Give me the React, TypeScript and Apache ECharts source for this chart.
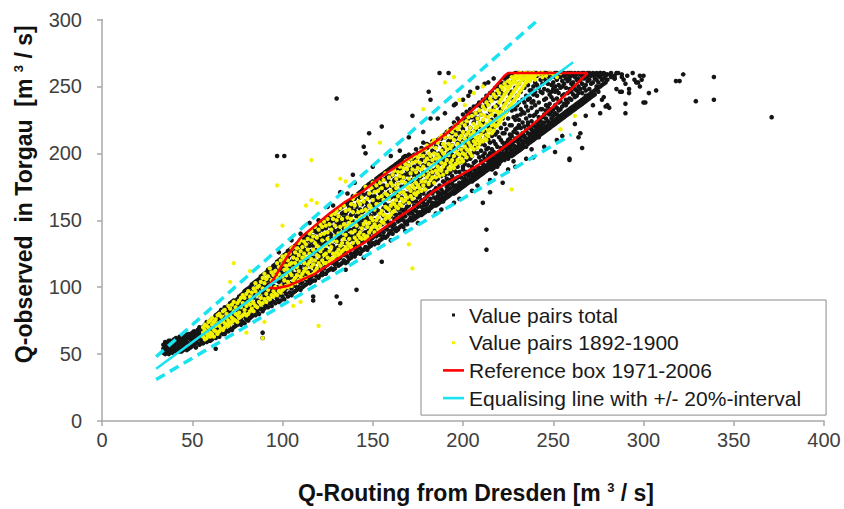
import React, { useEffect, useRef } from "react";
import * as echarts from "echarts";

// ---------- data ----------
const SERIES_NAMES = [
  "Value pairs total",
  "Value pairs 1892-1900",
  "Reference box 1971-2006",
  "Equalising line with +/- 20%-interval",
];

// All value pairs, grouped by Q-Routing Dresden (x): [x, Q-observed Torgau values]
const BLACK_COLUMNS: [number, number[]][] = [
[34,[51,54,57,52]],[35,[59,53,56,50]],[36,[55,52,58,54]],[37,[57,50,60,53]],[38,[60,54,52,57]],[39,[54,59,51,56]],
[40,[57,53,61,55]],[41,[52,59,55,62]],[42,[55,61,53,58]],[43,[60,52,57,63]],[44,[54,62,58,52]],[45,[56,63,53,60]],
[46,[61,54,58,65]],[47,[55,63,59,53]],[48,[62,57,65,54]],[49,[58,55,64,61]],[50,[56,63,60,66]],[51,[61,57,65,67]],
[52,[59,66,55,63]],[53,[64,58,68,61]],[54,[57,65,62,70]],[55,[67,60,64,58]],[56,[62,70,58,66]],[57,[60,68,64,72]],
[58,[65,59,71,62,74]],[59,[61,69,64,73,60]],[60,[67,62,75,70,60]],[61,[64,72,61,68,76]],[62,[70,63,77,66,73]],
[63,[62,74,67,79,71]],[64,[68,64,77,72,80]],[65,[75,63,70,81,66]],[66,[66,78,72,83,69]],[67,[73,65,81,76,70]],
[68,[69,82,75,65,85]],[69,[78,67,84,72,80]],[70,[71,86,67,77,82]],[71,[83,69,75,88,79]],[72,[74,68,85,80,89]],
[73,[70,79,87,75,90,83]],[74,[82,71,89,77,86,74]],[75,[76,91,72,84,80,88]],[76,[87,73,79,93,83,76]],[77,[72,90,81,76,94,86]],
[78,[79,74,88,95,83,92]],[79,[85,73,91,78,97,82]],[80,[76,93,84,98,80,89]],[81,[90,75,86,99,81,95]],[82,[79,94,77,88,100,84]],
[83,[86,78,97,82,102,91]],[84,[80,92,99,85,103,96]],[85,[94,79,88,104,83,99]],[86,[82,97,90,105,86,101]],[87,[89,80,103,94,84,106]],
[88,[84,99,91,108,87,104]],[89,[96,82,106,90,101,109]],[90,[87,103,93,84,110,98]],[91,[100,86,95,111,90,105]],[92,[85,107,97,92,113,102]],
[93,[94,88,110,100,114,105]],[94,[90,104,86,113,97,109]],[95,[101,89,115,94,108,116]],[96,[88,111,98,105,117,93]],[97,[107,91,115,100,119,96]],
[98,[94,112,89,104,120,109]],[99,[90,117,101,108,96,121]],[100,[105,93,119,111,98,123,114]],[101,[97,116,91,108,124,102,120]],
[102,[112,95,121,104,117,99,125]],[103,[93,110,127,100,118,106,122]],[104,[103,96,124,114,109,128,119]],[105,[118,99,107,126,94,113,129]],
[106,[96,121,110,130,103,116,125]],[107,[109,101,128,117,97,123,131]],[108,[123,98,114,105,132,119,110]],[109,[100,127,112,118,106,133,122]],
[110,[115,103,131,98,121,109,135,126]],[111,[104,124,112,134,100,119,129,108]],[112,[128,107,117,101,136,122,112,132]],
[113,[102,121,133,110,126,115,139,106]],[114,[112,137,104,127,118,131,108,140]],[115,[131,106,120,140,112,125,103,135]],
[116,[108,127,116,142,104,134,121,137]],[117,[122,111,138,105,131,117,143,127]],[118,[105,133,120,142,114,126,109,137]],
[119,[128,108,141,119,134,113,145,124]],[120,[113,136,107,125,146,119,131,141]],[121,[134,109,122,145,116,139,128,148]],
[122,[118,143,111,131,124,149,137,109]],[123,[110,127,147,120,137,114,132,150]],[124,[139,116,128,110,148,123,144,133]],
[125,[121,146,112,135,127,151,140,117]],[126,[113,132,150,124,141,119,153,136]],[127,[145,118,131,114,139,154,125,149]],
[128,[126,113,152,137,120,145,131,155]],[129,[135,150,117,128,156,142,122,114]],[130,[118,140,129,157,123,147,134,152]],
[131,[148,121,136,116,153,130,143,158]],[132,[127,117,145,138,159,122,151,133]],[133,[141,155,124,118,148,133,160,128]],
[134,[120,137,152,129,161,144,124,156]],[135,[150,126,118,141,133,162,155,137]],[136,[131,157,123,146,139,119,163,152]],
[137,[121,143,135,160,127,151,164,139]],[138,[154,130,122,147,138,165,125,159]],[139,[136,124,161,143,131,155,168,149]],
[140,[126,149,138,166,132,157,123,144]],[141,[160,128,145,135,168,153,125,140]],[142,[137,154,126,163,142,170,131,149]],
[143,[129,147,167,136,158,125,171,141]],[144,[162,133,150,127,144,172,138,156]],[145,[140,128,157,146,169,134,174,151]],
[146,[130,164,141,153,135,175,129,159]],[147,[151,136,170,128,145,162,176,141]],[148,[133,156,143,177,138,167,149,130]],
[149,[168,141,131,159,147,178,136,153]],[150,[137,163,149,133,172,143,179,157]],[151,[155,132,168,146,139,176,161,150]],
[152,[142,174,134,158,149,181,138,165]],[153,[133,151,166,141,178,157,146,182]],[154,[170,139,155,135,163,183,147,176]],
[155,[147,165,136,180,156,142,172,184]],[156,[138,159,176,148,168,141,185,153]],[157,[174,144,162,137,181,151,169,186]],
[158,[149,138,167,157,183,143,175,187]],[159,[161,179,140,152,171,188,146,166]],[160,[142,158,176,148,167,189,153,183]],
[161,[172,145,162,184,140,155,178,190]],[162,[151,168,143,180,160,191,147,174]],[163,[144,163,186,154,173,142,181,192]],
[164,[177,149,169,143,158,188,166,193]],[165,[155,145,181,171,161,194,150,186]],[166,[146,167,158,189,175,152,195,183]],
[167,[182,150,171,145,163,191,157,197]],[168,[158,176,148,193,165,184,153,198]],[169,[149,170,187,160,179,147,196,164]],
[170,[174,155,191,150,168,184,161,199]],[171,[152,179,165,198,157,188,171,150,196]],[172,[185,158,150,172,194,164,180,155,198]],
[173,[161,151,176,190,169,153,199,183,158]],[174,[153,170,186,157,203,164,177,196,152]],[175,[179,155,167,192,160,185,153,200,172]],
[176,[156,189,163,175,154,199,182,168,200]],[177,[171,154,195,160,183,156,176,204,165]],[178,[158,178,163,191,155,208,170,186,200]],
[179,[184,157,173,161,197,179,156,203,166]],[180,[162,191,157,176,168,204,185,159,207]],[181,[158,170,199,164,181,157,193,205,175]],
[182,[176,160,188,166,206,159,183,197,171]],[183,[163,194,160,177,170,209,185,162,202]],[184,[187,162,172,201,161,179,208,167,193]],
[185,[161,180,166,196,174,209,163,188,205]],[186,[171,163,190,162,181,210,168,199,184]],[187,[166,200,163,176,192,170,211,164,185]],
[188,[193,165,173,207,164,183,198,169,211]],[189,[167,186,164,179,203,171,213,166,195]],[190,[178,166,197,170,189,212,167,184,214]],
[191,[168,190,175,167,205,181,172,216,196]],[192,[185,169,200,173,168,193,216,177,209]],[193,[170,180,196,169,210,186,174,218,201]],
[194,[192,171,183,215,170,199,177,206,219]],[195,[172,204,170,188,175,218,195,180,223]],[196,[181,171,196,176,212,172,203,186,217]],
[197,[174,190,172,208,182,176,221,199,226]],[198,[200,173,186,175,215,193,178,224,207]],[199,[175,195,174,182,220,203,177,213,224]],
[200,[188,176,209,179,198,175,218,190,229]],[201,[177,202,181,192,176,226,208,184,222]],[202,[195,178,186,215,180,203,177,222,231]],
[203,[179,191,212,183,178,199,229,206,226]],[204,[206,180,187,196,179,219,185,211,233]],[205,[181,198,179,215,190,208,183,227,229]],
[206,[193,182,210,185,180,223,201,188,235]],[207,[183,204,187,181,217,194,230,184,226]],[208,[211,184,190,200,182,226,207,186,236]],
[209,[185,197,183,220,189,212,187,231,238]],[210,[202,186,215,189,184,229,194,207,235]],[211,[187,209,192,185,223,198,189,217,240]],
[212,[196,188,216,186,206,191,234,200,239]],[213,[189,203,187,228,195,213,190,236,243]],[214,[210,190,198,188,220,192,237,204,241]],
[215,[191,196,218,189,208,194,231,245,200]],[216,[188,213,193,225,190,240,203,197,246]],[217,[192,201,189,219,195,234,209,244,194]],
[218,[207,191,196,228,193,214,199,241,249]],[219,[194,190,216,198,236,195,223,205,245]],[220,[199,193,212,196,241,201,229,192,250]],
[221,[195,219,198,194,233,204,247,210,253]],[222,[208,196,200,226,197,244,215,252,203]],[223,[197,215,199,237,206,195,252,222,256]],
[224,[204,198,231,201,218,256,208,200,257]],[225,[199,210,196,240,203,226,251,205,258]],[226,[214,200,205,235,198,221,258,211,244]],
[227,[201,221,198,246,207,213,232,203,259]],[228,[209,202,227,199,240,216,254,206,259]],[229,[203,218,200,249,211,233,205,225,260]],
[230,[215,204,209,243,201,228,260,219,236]],[231,[205,225,202,252,211,238,207,221,260]],[232,[219,206,213,246,203,233,258,210,229]],
[233,[207,231,204,255,215,240,209,223,260]],[234,[213,208,238,205,249,220,259,212,230]],[235,[209,226,205,257,217,243,211,235,260]],
[236,[223,210,232,207,251,215,260,221,240]],[237,[211,241,208,219,255,228,213,247,260]],[238,[218,212,234,209,258,224,247,215,238]],
[239,[213,239,210,228,260,216,250,221,244]],[240,[229,214,246,211,253,220,260,236,217]],[241,[215,223,212,251,231,258,218,243,260]],
[242,[221,216,249,213,238,227,259,219]],[243,[217,233,214,255,224,246,220,260]],[244,[227,218,245,215,252,233,259,222]],
[245,[219,240,216,256,229,248,223,260]],[246,[232,220,254,217,241,226,260,236]],[247,[221,247,218,235,258,224,252,230]],
[248,[237,222,256,219,244,229,260,233]],[249,[223,242,220,251,231,259,226,246]],[250,[228,224,253,221,240,259,233,248]],
[251,[225,246,222,257,236,250,230,260]],[252,[241,226,255,223,247,234,260,229]],[253,[227,251,224,238,258,232,245]],
[254,[233,228,257,225,249,239,260]],[255,[229,254,226,243,259,235,250]],[256,[244,230,258,227,252,237,260]],
[257,[231,249,228,256,240,259,236]],[258,[238,232,259,229,254,245,260]],[259,[233,255,230,248,260,241,257]],
[260,[246,234,258,231,252,240,260]],[261,[235,253,232,259,244,250]],[262,[242,236,257,233,260,248]],[263,[237,255,234,247,259,243]],
[264,[250,238,260,235,245,256]],[265,[239,254,236,259,248]],[266,[245,240,258,237,252,260]],[267,[241,256,238,249,260]],
[268,[251,242,259,239,247]],[269,[243,257,240,254,260]],[270,[248,244,260,241,255]],[271,[245,258,242,252]],[272,[253,246,260,243]],
[273,[247,259,244,256]],[274,[255,248,260,250]],[275,[249,258,246,253]],[276,[257,250,260]],[277,[251,259,255]],[278,[256,252,260]],
[279,[253,258]],[280,[259,255]],[282,[257,260]],[284,[258,256]],[286,[260]],[288,[257]],
];

// Single value pairs scattered away from the dense band
const BLACK_SCATTER: [number, number][] = [
  [130, 241], [97, 198], [101, 198], [145, 205], [146, 200], [148, 215], [155, 220], [139, 184], [132, 171],
  [117, 90], [117, 93], [132, 88], [130, 93], [141, 98], [155, 119], [213, 143], [213, 128], [89, 66], [89, 62], [63, 54],
  [259, 195], [265, 215], [251, 201], [239, 197], [229, 190], [222, 178], [215, 171], [211, 163],
  [276, 230], [290, 230], [266, 237], [280, 236], [264, 212], [266, 204], [252, 210], [259, 196],
  [175, 148], [185, 155], [195, 163], [205, 172], [215, 180], [225, 188], [235, 196], [245, 205], [255, 213],
  [262, 222], [268, 228], [272, 236], [278, 242], [285, 248], [290, 252], [295, 255], [300, 258], [298, 250], [303, 245],
  [105, 135], [115, 148], [125, 160], [140, 178], [150, 190], [160, 198], [170, 212], [182, 226], [187, 260], [192, 260],
  [181, 246], [182, 240], [172, 228], [322, 259], [320, 254], [339, 257], [339, 240], [329, 239], [307, 247], [371, 227],
  [290, 237], [300, 238], [301, 238], [292, 248], [292, 245], [288, 246], [298, 258], [299, 255], [296, 253], [279, 235],
  [281, 234], [277, 240], [318, 254], [297, 253], [287, 246], [270, 259], [273, 258], [276, 260], [279, 259], [282, 258],
  [285, 260], [288, 259], [291, 258], [294, 260], [284, 256], [289, 255], [248, 222], [242, 212], [232, 203], [268, 243],
  [120, 150], [128, 161], [136, 170], [110, 140], [98, 126], [165, 202], [178, 216], [196, 237], [204, 246], [212, 252],
  [160, 135], [168, 142], [188, 158], [198, 166], [208, 176], [218, 185], [228, 194], [238, 203], [145, 122], [135, 113],
  [195, 236], [203, 243], [208, 249], [214, 253], [190, 230], [186, 226], [200, 240], [217, 256],
];

// Value pairs 1892-1900, grouped by x
const YELLOW_COLUMNS: [number, number[]][] = [
[56,[63,70,66]],[57,[68,61,72]],[58,[65,71,62]],[59,[70,64,74]],[60,[66,75,63]],[61,[72,65,77]],[62,[68,63,74]],[63,[76,67,71]],
[64,[65,73,79]],[65,[71,80,67]],[66,[78,69,74]],[67,[68,82,75]],[68,[73,70,83]],[69,[80,72,77]],[70,[75,86,71]],[71,[84,73,79]],
[72,[77,87,74]],[73,[82,76,89]],[74,[75,85,80]],[75,[88,79,74]],[76,[81,90,77]],[77,[85,78,92]],[78,[79,88,94]],[79,[92,83,80]],
[80,[86,95,79]],[81,[80,89,97]],[82,[93,82,87]],[83,[84,96,90]],[84,[88,82,99]],[85,[97,86,103]],
[86,[85,94,100]],[87,[101,89,95]],[88,[92,104,87]],[89,[88,99,107]],[90,[103,91,110]],[91,[95,89,106]],
[92,[108,98,92]],[93,[91,101,114]],[94,[105,94,111]],[95,[97,109,93]],[96,[112,100,95]],[97,[94,107,118]],
[98,[115,97,110]],[99,[101,120,96]],[100,[108,98,117,123]],[101,[99,113,105,121]],[102,[116,101,109,124]],
[103,[104,120,100,113]],[104,[111,102,125,117]],[105,[101,118,109,129]],[106,[122,105,114,130]],
[107,[107,126,103,118]],[108,[115,109,129,121]],[109,[105,124,112,133]],[110,[127,108,119,135]],
[111,[110,122,130,106]],[112,[118,112,134,125]],[113,[132,114,122,107]],[114,[111,128,117,136]],
[115,[125,109,140,119]],[116,[115,135,121,142]],[117,[138,117,128,110]],[118,[120,112,133,145]],
[119,[114,137,124,131]],[120,[130,118,143,123]],[121,[116,127,139,147]],[122,[135,120,145,129]],
[123,[124,140,118,149]],[124,[118,131,146,125]],[125,[141,122,136,151]],[126,[127,119,147,133]],
[127,[121,143,130,154]],[128,[135,125,151,121]],[129,[146,123,138,155]],[130,[126,150,134,157]],
[131,[140,128,153,124]],[132,[131,145,125,159]],[133,[151,133,141,127]],[134,[128,147,136,161]],
[135,[144,130,157,139]],[136,[133,152,128,146]],[137,[158,136,148,131]],[138,[130,141,162,151]],
[139,[147,133,156,166]],[140,[137,161,142,168]],[141,[150,135,146,169]],[142,[139,156,133,164]],
[143,[162,141,152,137]],[144,[144,167,136,157]],[145,[153,139,164,147]],[146,[136,158,149,175]],
[147,[166,145,138,156]],[148,[148,170,141,161]],[149,[159,143,174,152]],[150,[145,165,150,178]],
[151,[171,147,158,141]],[152,[150,162,176,145]],[153,[167,152,143,172]],[154,[155,146,178,162]],
[155,[174,157,149,168]],[156,[148,165,180,154]],[157,[170,151,160,185]],[158,[159,176,153,169]],
[159,[152,166,182,158]],[160,[178,161,154,172]],[161,[163,184,156,176]],[162,[157,170,187,162]],
[163,[181,165,160,174]],[164,[168,159,186,177]],[165,[162,183,171,190]],[166,[186,166,161,179]],
[167,[171,189,164,182]],[168,[165,178,192,169]],[169,[188,167,175,195]],[170,[174,163,191,181]],
[171,[168,185,196,172]],[172,[193,176,166,188]],[173,[170,181,198,174]],[174,[186,169,194,178]],
[175,[176,197,171,189]],[176,[199,174,183,193]],[177,[172,188,202,179]],[178,[190,176,198,184]],
[179,[179,203,173,194]],[180,[196,182,206,187]],[181,[177,192,200,184]],[182,[205,180,189,198]],
[183,[182,195,208,186]],[184,[200,178,192,210]],[185,[187,204,182,196]],[186,[208,185,199,190]],
[187,[183,197,211,188]],[188,[202,187,193,213]],[189,[190,207,184,200]],[190,[212,192,198,205]],
[191,[186,203,215,195]],[192,[207,189,199,217]],[193,[193,212,188,204]],[194,[216,195,206,191]],
[195,[198,210,219,189]],[196,[192,214,202,221]],[197,[207,195,218,200]],[198,[220,199,193,211]],
[199,[196,213,223,203]],[200,[216,200,194,208]],[201,[199,221,211,205]],[202,[224,203,197,214]],
[203,[202,216,227,208]],[204,[219,206,200,212]],[205,[204,228,214,198]],[206,[222,209,203,216]],
[207,[207,230,219,212]],[208,[226,210,204,220]],[209,[212,232,207,223]],[210,[229,214,209,221]],
[211,[209,225,235,217]],[212,[233,219,211,228]],[213,[214,238,222,210]],[214,[236,217,227,213]],
[215,[218,241,224,232]],[216,[239,221,215,229]],[217,[222,244,232,217]],[218,[242,225,220,235]],
[219,[226,247,231,221]],[220,[245,229,223,238]],[221,[231,250,225,240]],[222,[248,234,227,242]],
[223,[236,252,229,244]],[224,[250,238,231,246]],[225,[240,254,233,248]],[226,[253,242,235,250]],
[227,[244,257,237,252]],[228,[256,246,239,254]],[229,[248,258,241,253]],[230,[259,250,243,256]],
[231,[252,245,258,260]],[232,[257,247,254,260]],[233,[249,259,255]],[234,[256,251,260]],[235,[253,258,260]],
[236,[255,259,257]],[237,[257,260,254]],[238,[259,256]],[239,[260,257]],[240,[258,255]],[242,[259,260]],[244,[257,260]],
[246,[258]],[248,[260]],[250,[259]],[252,[257]],[254,[260]],
];

const YELLOW_SCATTER: [number, number][] = [
  [73, 118], [71, 104], [82, 112], [97, 176], [116, 195], [100, 146], [154, 208], [132, 181], [135, 179],
  [113, 161], [116, 165], [119, 163], [120, 71], [172, 114], [170, 132], [227, 173], [254, 218], [262, 228],
  [178, 233], [198, 240], [190, 253], [195, 257], [89, 62], [80, 66], [106, 86], [110, 89], [90, 74],
  [206, 245], [211, 250], [201, 236],
];

// Reference box 1971-2006 (closed outline)
const REF_BOX: [number, number][] = [
  [92, 100], [96, 108], [100, 117], [105, 128], [110, 137], [118, 146], [126, 155], [135, 164], [145, 172],
  [154, 182], [163, 190], [172, 198], [182, 206], [191, 215], [200, 226], [209, 237], [216, 247], [223, 258],
  [225, 260], [269, 260], [260, 248], [250, 235], [239, 222], [228, 210], [218, 200], [207, 190], [195, 181],
  [184, 172], [173, 160], [163, 151], [154, 142], [145, 133], [136, 126], [127, 118], [118, 110], [110, 105],
  [103, 101], [96, 99], [92, 100],
];

// Equalising line and +/- 20 % interval
const EQ_LINE: [number, number][] = [[30, 39], [261, 268]];
const EQ_UPPER: [number, number][] = [[30, 48], [241, 299]];
const EQ_LOWER: [number, number][] = [[30, 31], [260, 214]];

const FONT = "'Liberation Sans', Arial, sans-serif";

export default function App() {
  const ref = useRef<HTMLDivElement | null>(null);

  useEffect(() => {
    if (!ref.current) return;
    const chart = echarts.init(ref.current, undefined, { renderer: "svg" });

    const blackPoints = BLACK_COLUMNS.flatMap(([x, ys]) => ys.map((y) => [x, y])).concat(BLACK_SCATTER);
    const yellowPoints = YELLOW_COLUMNS.flatMap(([x, ys]) => ys.map((y) => [x, y])).concat(YELLOW_SCATTER);

    const dotIcon = "path://M0,0L0,0M21,14L21,14M9,5.5L12,5.5L12,8.5L9,8.5Z";
    const barIcon = "path://M0,0L0,0M21,14L21,14M0,5.7L21,5.7L21,8.3L0,8.3Z";

    const nameStyle = {
      fontFamily: FONT,
      fontSize: 23,
      fontWeight: "bold",
      color: "#111",
      rich: { sup: { fontFamily: FONT, fontSize: 13, fontWeight: "bold", color: "#111", verticalAlign: "top" } },
    };

    chart.setOption({
      animation: false,
      backgroundColor: "#ffffff",
      grid: { left: 102, right: 20, top: 19.5, bottom: 87, containLabel: false },
      xAxis: {
        type: "value",
        min: 0,
        max: 400,
        interval: 50,
        name: "Q-Routing from Dresden [m {sup|3} / s]",
        nameLocation: "middle",
        nameGap: 60,
        nameTextStyle: { ...nameStyle, padding: [0, 0, 0, 26] },
        axisLine: { show: true, lineStyle: { color: "#a8a8a8", width: 1.5 } },
        axisTick: { show: true, length: 5, lineStyle: { color: "#a8a8a8", width: 1.5 } },
        axisLabel: { margin: 9, fontFamily: FONT, fontSize: 20, color: "#404040" },
        splitLine: { show: false },
      },
      yAxis: {
        type: "value",
        min: 0,
        max: 300,
        interval: 50,
        name: "Q-observed  in Torgau  [m {sup|3} / s]",
        nameLocation: "middle",
        nameRotate: 90,
        nameGap: 67,
        nameTextStyle: { ...nameStyle, padding: [0, 0, 0, 52] },
        axisLine: { show: true, lineStyle: { color: "#a8a8a8", width: 1.5 } },
        axisTick: { show: true, length: 5, lineStyle: { color: "#a8a8a8", width: 1.5 } },
        axisLabel: { margin: 20, fontFamily: FONT, fontSize: 20, color: "#404040" },
        splitLine: { show: false },
      },
      legend: {
        orient: "vertical",
        left: 421,
        top: 300,
        backgroundColor: "#ffffff",
        borderColor: "#8a8a8a",
        borderWidth: 1,
        padding: [4.5, 25, 6.5, 22],
        itemWidth: 21,
        itemHeight: 14,
        itemGap: 6.7,
        textStyle: { fontFamily: FONT, fontSize: 21, lineHeight: 21, color: "#1a1a1a" },
        data: [
          { name: SERIES_NAMES[0], icon: dotIcon },
          { name: SERIES_NAMES[1], icon: dotIcon },
          { name: SERIES_NAMES[2], icon: barIcon },
          { name: SERIES_NAMES[3], icon: barIcon },
        ],
      },
      series: [
        {
          name: SERIES_NAMES[0],
          type: "scatter",
          data: blackPoints,
          symbol: "circle",
          symbolSize: 4.6,
          itemStyle: { color: "#151515", opacity: 1 },
          z: 2,
        },
        {
          name: SERIES_NAMES[1],
          type: "scatter",
          data: yellowPoints,
          symbol: "circle",
          symbolSize: 4.3,
          itemStyle: { color: "#f2f200", opacity: 1 },
          z: 3,
        },
        {
          name: SERIES_NAMES[2],
          type: "line",
          data: REF_BOX,
          showSymbol: false,
          symbol: "none",
          lineStyle: { color: "#ff0000", width: 2.5 },
          itemStyle: { color: "#ff0000" },
          z: 4,
        },
        {
          name: SERIES_NAMES[3],
          type: "line",
          data: EQ_LINE,
          showSymbol: false,
          symbol: "none",
          lineStyle: { color: "#19e3f0", width: 2.5 },
          itemStyle: { color: "#19e3f0" },
          z: 5,
        },
        {
          name: SERIES_NAMES[3],
          type: "line",
          data: EQ_UPPER,
          showSymbol: false,
          symbol: "none",
          lineStyle: { color: "#19e3f0", width: 3.5, type: [10, 6] },
          itemStyle: { color: "#19e3f0" },
          z: 5,
        },
        {
          name: SERIES_NAMES[3],
          type: "line",
          data: EQ_LOWER,
          showSymbol: false,
          symbol: "none",
          lineStyle: { color: "#19e3f0", width: 3.5, type: [10, 6] },
          itemStyle: { color: "#19e3f0" },
          z: 5,
        },
      ],
    });

    return () => chart.dispose();
  }, []);

  return (
    <div
      ref={ref}
      style={{ position: "fixed", left: 0, top: 0, width: 844, height: 509, background: "#fff" }}
    />
  );
}
